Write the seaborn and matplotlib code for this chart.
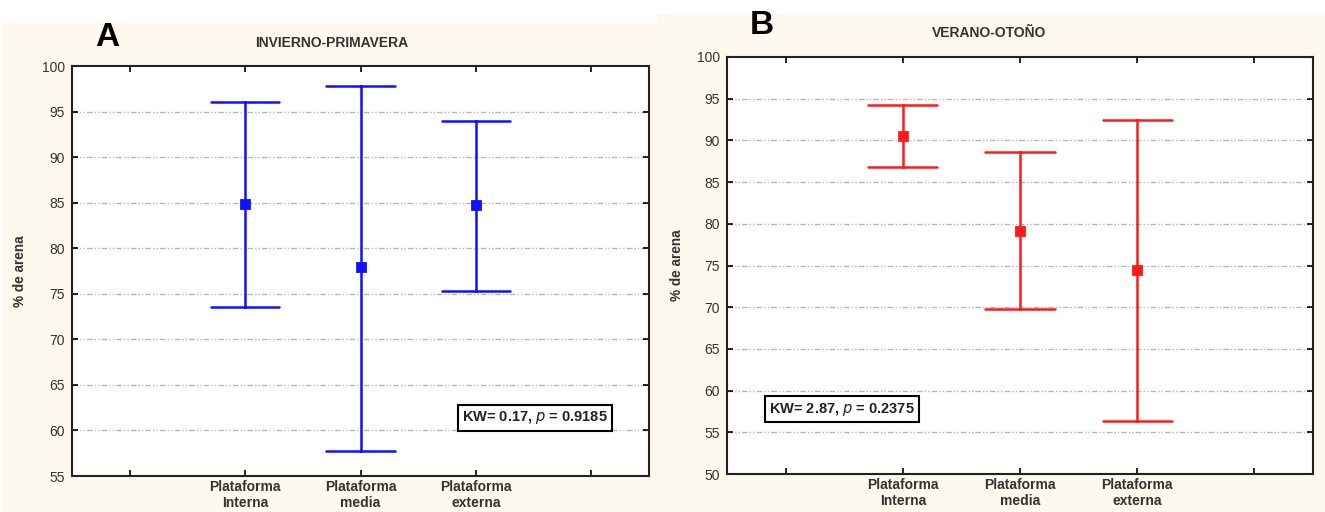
import numpy as np
import pandas as pd
import matplotlib
matplotlib.use("Agg")
import matplotlib.pyplot as plt
from matplotlib.patches import Rectangle
import seaborn as sns

# ---- data ----
categories = ["Plataforma\nInterna", "Plataforma\nmedia", "Plataforma\nexterna"]

a_mean = [84.8, 77.9, 84.7]
a_low = [73.5, 57.7, 75.3]
a_high = [96.0, 97.8, 94.0]

b_mean = [90.5, 79.1, 74.5]
b_low = [86.8, 69.8, 56.3]
b_high = [94.3, 88.6, 92.5]

a_title = "INVIERNO-PRIMAVERA"
b_title = "VERANO-OTOÑO"
a_stat = ("0.17", "0.9185")
b_stat = ("2.87", "0.2375")
ylabel = "% de arena"
a_yticks = [55, 60, 65, 70, 75, 80, 85, 90, 95, 100]
b_yticks = [50, 55, 60, 65, 70, 75, 80, 85, 90, 95, 100]

sns.set_theme(style="white")
plt.rcParams["font.family"] = ["Liberation Sans", "DejaVu Sans"]

W, H = 1325, 512
fig = plt.figure(figsize=(W / 100, H / 100), dpi=100)
fig.patch.set_facecolor("white")
cream = "#FEF9EE"
fig.patches.append(Rectangle((3 / W, 0), 655 / W, (H - 23) / H, transform=fig.transFigure,
                             facecolor=cream, edgecolor="none", zorder=-10))
fig.patches.append(Rectangle((658 / W, 0), (W - 658) / W, (H - 14) / H, transform=fig.transFigure,
                             facecolor=cream, edgecolor="none", zorder=-10))


def long_df(mean, low, high):
    rows = []
    for c, m, l, h in zip(categories, mean, low, high):
        for v in (l, m, h):
            rows.append({"cat": c, "val": v})
    return pd.DataFrame(rows)


def panel(rect, mean, low, high, color, yticks, title, letter, letter_xy, title_xy,
          stat, stat_xy, ylab_x):
    ax = fig.add_axes(rect)
    ax.set_facecolor("white")
    df = long_df(mean, low, high)
    sns.pointplot(data=df, x="cat", y="val", order=categories, ax=ax,
                  estimator=np.median, errorbar=lambda x: (np.min(x), np.max(x)),
                  color=color, markers="s", markersize=5.5, linestyle="none",
                  capsize=0.59, err_kws={"linewidth": 1.8})
    ax.set_xlim(-1.5, 3.5)
    ax.set_ylim(yticks[0], yticks[-1])
    ax.set_xticks([-1, 0, 1, 2, 3])
    ax.set_xticklabels([""] + categories + [""], fontsize=10, fontweight="bold",
                       color="#333333", linespacing=1.15)
    ax.set_yticks(yticks)
    ax.set_yticklabels([str(t) for t in yticks], fontsize=10, color="#333333")
    ax.tick_params(axis="both", direction="in", length=4, width=1.2, color="black",
                   top=True, right=True, left=True, bottom=True, pad=5)
    ax.tick_params(axis="x", pad=3)
    for yv in yticks[1:-1]:
        ax.axhline(yv, color="#b8b8b8", linewidth=1.0,
                   linestyle=(0, (4, 1.5, 1, 1.5, 1, 1.5)), zorder=0)
    for s in ax.spines.values():
        s.set_visible(True)
        s.set_color("#222222")
        s.set_linewidth(1.5)
    ax.set_xlabel("")
    ax.set_ylabel("")
    fig.text(ylab_x / W, rect[1] + rect[3] / 2, ylabel, rotation=90, fontsize=9.8,
             fontweight="bold", color="#333333", ha="center", va="center")
    fig.text(letter_xy[0] / W, 1 - letter_xy[1] / H, letter, fontsize=24, fontweight="bold",
             ha="center", va="center", color="black")
    fig.text(title_xy[0] / W, 1 - title_xy[1] / H, title, fontsize=10, fontweight="bold",
             ha="center", va="center", color="#333333")
    fig.text(stat_xy[0] / W, 1 - stat_xy[1] / H,
             f"KW= {stat[0]}, $\\mathit{{p}}$ = {stat[1]}", fontsize=10.5, fontweight="bold",
             ha="left", va="center", color="#222222",
             bbox=dict(boxstyle="square,pad=0.3", facecolor="white", edgecolor="black",
                       linewidth=1.5))
    return ax


rectA = [72 / W, (H - 476) / H, 577 / W, 410 / H]
rectB = [727 / W, (H - 474) / H, 586 / W, 417 / H]

panel(rectA, a_mean, a_low, a_high, "#1010ff", a_yticks, a_title, "A", (107, 37),
      (332, 43), a_stat, (462, 418), 20)
panel(rectB, b_mean, b_low, b_high, "#ff1a1a", b_yticks, b_title, "B", (762, 25),
      (989, 33), b_stat, (769, 409), 677)

fig.savefig("out.png", dpi=100)
